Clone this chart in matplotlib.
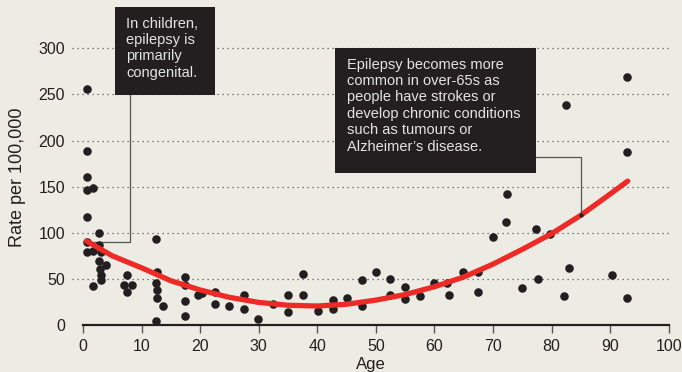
import matplotlib
matplotlib.use("Agg")
import matplotlib.pyplot as plt
from matplotlib.patches import Rectangle

plt.rcParams['font.family'] = ['Liberation Sans', 'DejaVu Sans']

# ---- data ----
ages = [0.6, 0.6, 0.6, 0.6, 1.7, 0.6, 2.7, 0.6, 2.7, 0.6, 1.7, 3.1, 2.7, 2.9, 4.0,
        3.1, 3.1, 1.7, 7.5, 7.0, 8.4, 7.5, 12.5, 12.6, 12.5, 12.6, 12.6, 13.6, 12.5,
        17.5, 17.5, 17.5, 17.5, 19.6, 20.3, 22.5, 22.5, 25.0, 27.5, 27.5, 29.9,
        32.5, 35.0, 35.0, 37.6, 37.6, 40.1, 42.6, 42.6, 45.1, 47.6, 47.6, 50.1,
        52.5, 52.5, 55.0, 55.0, 57.5, 59.9, 62.2, 62.5, 64.9, 67.4, 67.4, 70.0,
        72.3, 72.4, 74.9, 77.4, 77.6, 79.7, 82.4, 82.1, 82.9, 90.3, 92.8, 92.8, 92.8]
rates = [256, 189, 160, 146, 149, 117, 100, 90, 87, 79, 80, 79, 69, 61, 65,
         54, 49, 42, 54, 43, 43, 36, 93, 57, 46, 38, 29, 21, 4,
         52, 43, 26, 10, 32, 35, 36, 23, 21, 32, 17, 7,
         23, 32, 14, 55, 32, 15, 27, 17, 29, 49, 21, 58,
         50, 33, 41, 28, 31, 45, 46, 33, 57, 58, 36, 95,
         112, 142, 40, 104, 50, 99, 239, 31, 62, 54, 269, 188, 29]

trend_ages = [0.6, 5, 10, 15, 20, 25, 30, 35, 40, 45, 50, 55, 60, 65, 70, 75, 80, 85, 90, 93]
trend_rates = [91, 75, 62, 48, 38, 30, 24.5, 21.4, 20.6, 22.5, 27, 33, 41.5, 52, 66, 82, 99, 119, 142, 156]

y_ticks = [0, 50, 100, 150, 200, 250, 300]
x_ticks = [0, 10, 20, 30, 40, 50, 60, 70, 80, 90, 100]

note1 = "In children,\nepilepsy is\nprimarily\ncongenital."
note2 = ("Epilepsy becomes more\ncommon in over-65s as\npeople have strokes or\n"
         "develop chronic conditions\nsuch as tumours or\nAlzheimer\u2019s disease.")

BG = '#EDECE4'
DARK = '#231F20'
RED = '#EE2A26'

W, H = 682, 372
fig = plt.figure(figsize=(W / 100, H / 100), dpi=100, facecolor=BG)
# axes: x from px 72 (age -1.9) to 668.7 (age 100); y from px 325 (0) to px 7
ax_left, ax_right = 72, 668.7
ax_bottom, ax_top = 325, 7
ax = fig.add_axes([ax_left / W, 1 - ax_bottom / H, (ax_right - ax_left) / W, (ax_bottom - ax_top) / H])
ax.set_facecolor(BG)
ymax = (325 - 7) / 0.9223
xmin = (72 - 83) / 5.857
ax.set_xlim(xmin, 100)
ax.set_ylim(0, ymax)

for s in ['top', 'right', 'left']:
    ax.spines[s].set_visible(False)
ax.spines['bottom'].set_bounds(0, 100)
ax.spines['bottom'].set_color(DARK)
ax.spines['bottom'].set_linewidth(1.6)

ax.set_xticks(x_ticks)
ax.set_xticklabels([str(v) for v in x_ticks], fontsize=11.5, color=DARK)
ax.tick_params(axis='x', length=6, width=1.0, color='#555555', pad=4)
ax.set_yticks(y_ticks)
ax.set_yticklabels([str(v) for v in y_ticks], fontsize=11.5, color=DARK)
ax.tick_params(axis='y', length=0, pad=5)

for yv in y_ticks[1:]:
    ax.plot([xmin, 100], [yv, yv], linestyle=(0, (1, 3)), color='#555555', lw=0.9, zorder=1)

ax.scatter(ages, rates, s=38, color=DARK, zorder=3, linewidths=0)
ax.plot(trend_ages, trend_rates, color=RED, lw=3.8, solid_capstyle='round', zorder=4)

# leader lines
ax.plot([8.0, 8.0, 0.6], [249.5, 90.5, 90.5], color='#555555', lw=0.9, zorder=2, clip_on=False)
ax.plot([77.3, 85.1, 85.1], [182.5, 182.5, 119], color='#555555', lw=0.9, zorder=5, clip_on=False)
ax.scatter([85.1], [119], s=4, color=DARK, zorder=6)

# annotation boxes
ax.add_patch(Rectangle((5.5, 249.5), 17.1, ymax - 249.5, facecolor=DARK, edgecolor='none',
                       zorder=6, clip_on=False))
ax.text(7.4, 334, note1, fontsize=10.5, color='#E4E4E4', va='top', ha='left',
        linespacing=1.2, zorder=7)
ax.add_patch(Rectangle((43.1, 165), 34.2, 135, facecolor=DARK, edgecolor='none', zorder=6))
ax.text(45.0, 290, note2, fontsize=10.5, color='#E4E4E4', va='top', ha='left',
        linespacing=1.22, zorder=7)

ax.set_xlabel('Age', fontsize=12, color=DARK, labelpad=2)
fig.text(18 / W, 1 - 177 / H, 'Rate per 100,000', rotation=90, fontsize=13,
         color=DARK, ha='center', va='center')

fig.savefig('out.png', dpi=100, facecolor=BG)
